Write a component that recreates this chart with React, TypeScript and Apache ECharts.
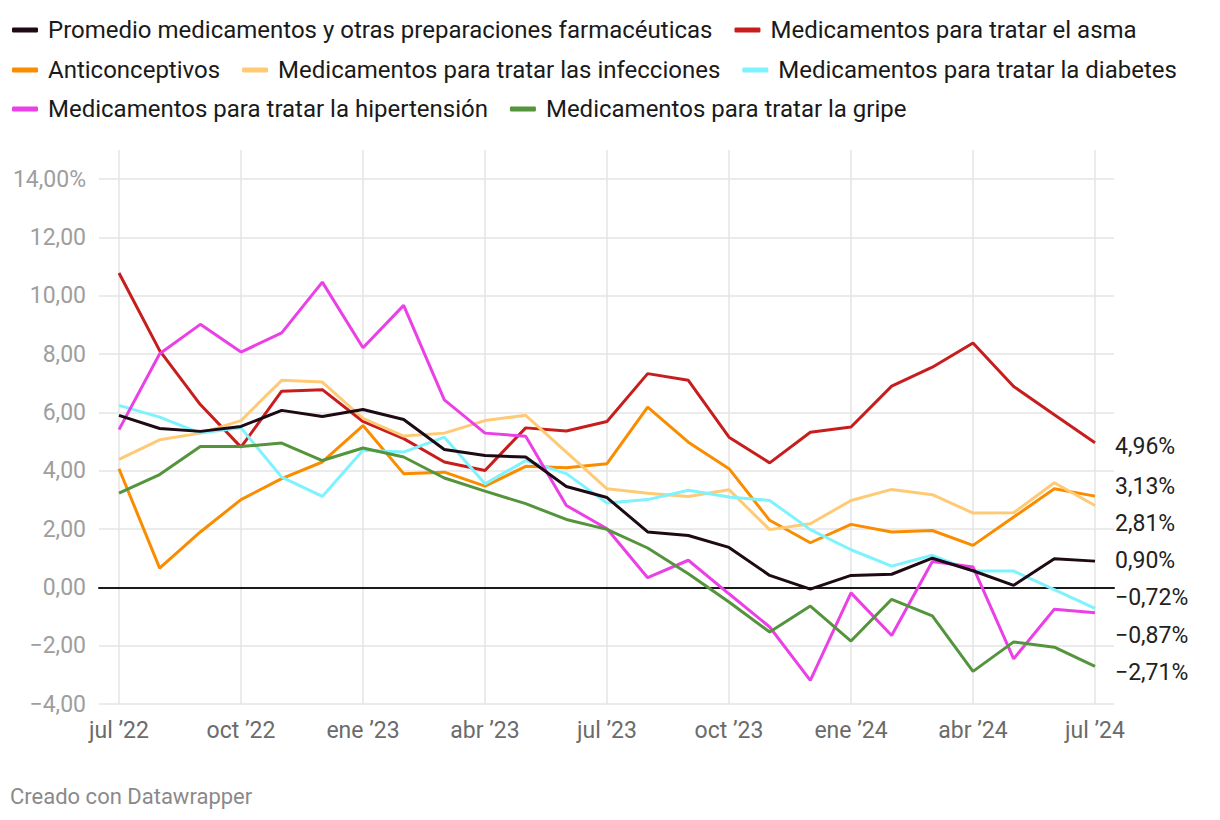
import React, { useEffect, useRef } from "react";
import * as echarts from "echarts";

const months = [
  "jul ’22", "ago ’22", "sep ’22", "oct ’22", "nov ’22", "dic ’22",
  "ene ’23", "feb ’23", "mar ’23", "abr ’23", "may ’23", "jun ’23",
  "jul ’23", "ago ’23", "sep ’23", "oct ’23", "nov ’23", "dic ’23",
  "ene ’24", "feb ’24", "mar ’24", "abr ’24", "may ’24", "jun ’24", "jul ’24",
];

const promedio = [5.90, 5.45, 5.35, 5.52, 6.07, 5.86, 6.10, 5.76, 4.73, 4.52, 4.47, 3.46, 3.08, 1.90, 1.78, 1.37, 0.41, -0.06, 0.41, 0.45, 1.00, 0.57, 0.07, 0.98, 0.90];
const asma = [10.78, 8.12, 6.27, 4.81, 6.73, 6.78, 5.69, 5.10, 4.30, 4.01, 5.47, 5.36, 5.69, 7.33, 7.10, 5.15, 4.27, 5.32, 5.50, 6.90, 7.55, 8.38, 6.89, 5.92, 4.96];
const anticonceptivos = [4.07, 0.66, 1.90, 3.01, 3.73, 4.30, 5.55, 3.90, 3.95, 3.47, 4.15, 4.10, 4.24, 6.18, 4.98, 4.07, 2.30, 1.53, 2.16, 1.90, 1.95, 1.44, 2.41, 3.38, 3.13];
const infecciones = [4.39, 5.06, 5.29, 5.72, 7.10, 7.04, 5.80, 5.19, 5.29, 5.72, 5.90, 4.64, 3.38, 3.23, 3.12, 3.35, 1.98, 2.18, 2.98, 3.36, 3.18, 2.55, 2.56, 3.59, 2.81];
const diabetes = [6.24, 5.84, 5.29, 5.47, 3.78, 3.12, 4.70, 4.64, 5.15, 3.55, 4.35, 3.90, 2.89, 3.01, 3.33, 3.10, 2.98, 1.98, 1.29, 0.73, 1.10, 0.56, 0.56, -0.08, -0.72];
const hipertension = [5.41, 8.01, 9.02, 8.07, 8.73, 10.47, 8.22, 9.67, 6.43, 5.29, 5.18, 2.81, 2.01, 0.33, 0.93, -0.22, -1.36, -3.19, -0.19, -1.65, 0.89, 0.70, -2.45, -0.75, -0.87];
const gripe = [3.23, 3.87, 4.83, 4.83, 4.95, 4.35, 4.78, 4.47, 3.75, 3.30, 2.87, 2.33, 1.99, 1.35, 0.47, -0.50, -1.53, -0.64, -1.84, -0.41, -0.98, -2.88, -1.87, -2.05, -2.71];

const names = {
  promedio: "Promedio medicamentos y otras preparaciones farmacéuticas",
  asma: "Medicamentos para tratar el asma",
  anti: "Anticonceptivos",
  infec: "Medicamentos para tratar las infecciones",
  diab: "Medicamentos para tratar la diabetes",
  hiper: "Medicamentos para tratar la hipertensión",
  gripe: "Medicamentos para tratar la gripe",
};

const FONT = "Roboto, 'Noto Sans', sans-serif";

function fmtPct(v: number) {
  return v.toFixed(2).replace(".", ",").replace("-", "−") + "%";
}

export default function App() {
  const ref = useRef<HTMLDivElement>(null);
  useEffect(() => {
    document.body.style.margin = "0";
    const chart = echarts.init(ref.current!, null, { renderer: "svg" });

    const mk = (name: string, data: number[], color: string, dy: number) => ({
      name,
      type: "line",
      xAxisIndex: 0,
      yAxisIndex: 0,
      data,
      showSymbol: false,
      symbol: "none",
      lineStyle: { color, width: 3 },
      itemStyle: { color },
      emphasis: { disabled: true },
      endLabel: {
        show: true,
        distance: 20,
        offset: [0, dy],
        formatter: (p: any) => fmtPct(p.value),
        color: "#222",
        fontSize: 23,
        fontFamily: FONT,
      },
    });

    const legendBase = {
      left: 12,
      padding: 0,
      itemWidth: 26,
      itemHeight: 5,
      itemGap: 22,
      icon: "roundRect",
      selectedMode: false,
      textStyle: { fontSize: 24, fontFamily: FONT, color: "#1a1a1a", padding: [0, 0, 0, 5], lineHeight: 24 },
    };

    chart.setOption({
      animation: false,
      backgroundColor: "#fff",
      textStyle: { fontFamily: FONT },
      legend: [
        { ...legendBase, top: 18, data: [names.promedio, names.asma] },
        { ...legendBase, top: 58, data: [names.anti, names.infec, names.diab] },
        { ...legendBase, top: 97, data: [names.hiper, names.gripe] },
      ],
      grid: [
        { left: 119, right: 125, top: 150, bottom: 116 },
        { left: 99, right: 106, top: 179, bottom: 116 },
      ],
      xAxis: [
        {
          type: "category",
          gridIndex: 0,
          data: months,
          boundaryGap: false,
          axisLine: { show: false },
          axisTick: { show: false },
          axisLabel: {
            interval: (i: number) => i % 3 === 0,
            color: "#6b6b6b",
            fontSize: 23,
            fontFamily: FONT,
            margin: 15,
          },
          splitLine: {
            show: true,
            interval: (i: number) => i % 3 === 0,
            lineStyle: { color: "#e5e5e5", width: 1.5 },
          },
        },
        {
          type: "value",
          gridIndex: 1,
          min: 0,
          max: 1,
          axisLine: { show: true, onZero: true, lineStyle: { color: "#1a1a1a", width: 2 } },
          axisTick: { show: false },
          axisLabel: { show: false },
          splitLine: { show: false },
        },
      ],
      yAxis: [
        {
          type: "value",
          gridIndex: 0,
          min: -4,
          max: 15,
          show: false,
          splitLine: { show: false },
        },
        {
          type: "value",
          gridIndex: 1,
          min: -4,
          max: 14,
          interval: 2,
          axisLine: { show: false },
          axisTick: { show: false },
          axisLabel: {
            color: "#9e9e9e",
            fontSize: 23,
            fontFamily: FONT,
            margin: 13,
            formatter: (v: number) =>
              v === 14 ? "14,00%" : v.toFixed(2).replace(".", ",").replace("-", "−"),
          },
          splitLine: { show: true, lineStyle: { color: "#e5e5e5", width: 1.5 } },
        },
      ],
      series: [
        mk(names.asma, asma, "#c71e1d", 4),
        mk(names.anti, anticonceptivos, "#fa8c00", -10),
        mk(names.infec, infecciones, "#ffca76", 18),
        mk(names.diab, diabetes, "#7ef2fd", -11),
        mk(names.hiper, hipertension, "#ea40e6", 23),
        mk(names.gripe, gripe, "#54943c", 6),
        mk(names.promedio, promedio, "#1d0a14", -1),
      ],
      graphic: [
        {
          type: "text",
          left: 10,
          top: 785,
          style: { text: "Creado con Datawrapper", fill: "#8a8a8a", fontSize: 22, fontFamily: FONT },
        },
      ],
    });
    return () => chart.dispose();
  }, []);
  return <div ref={ref} style={{ width: 1220, height: 820 }} />;
}
